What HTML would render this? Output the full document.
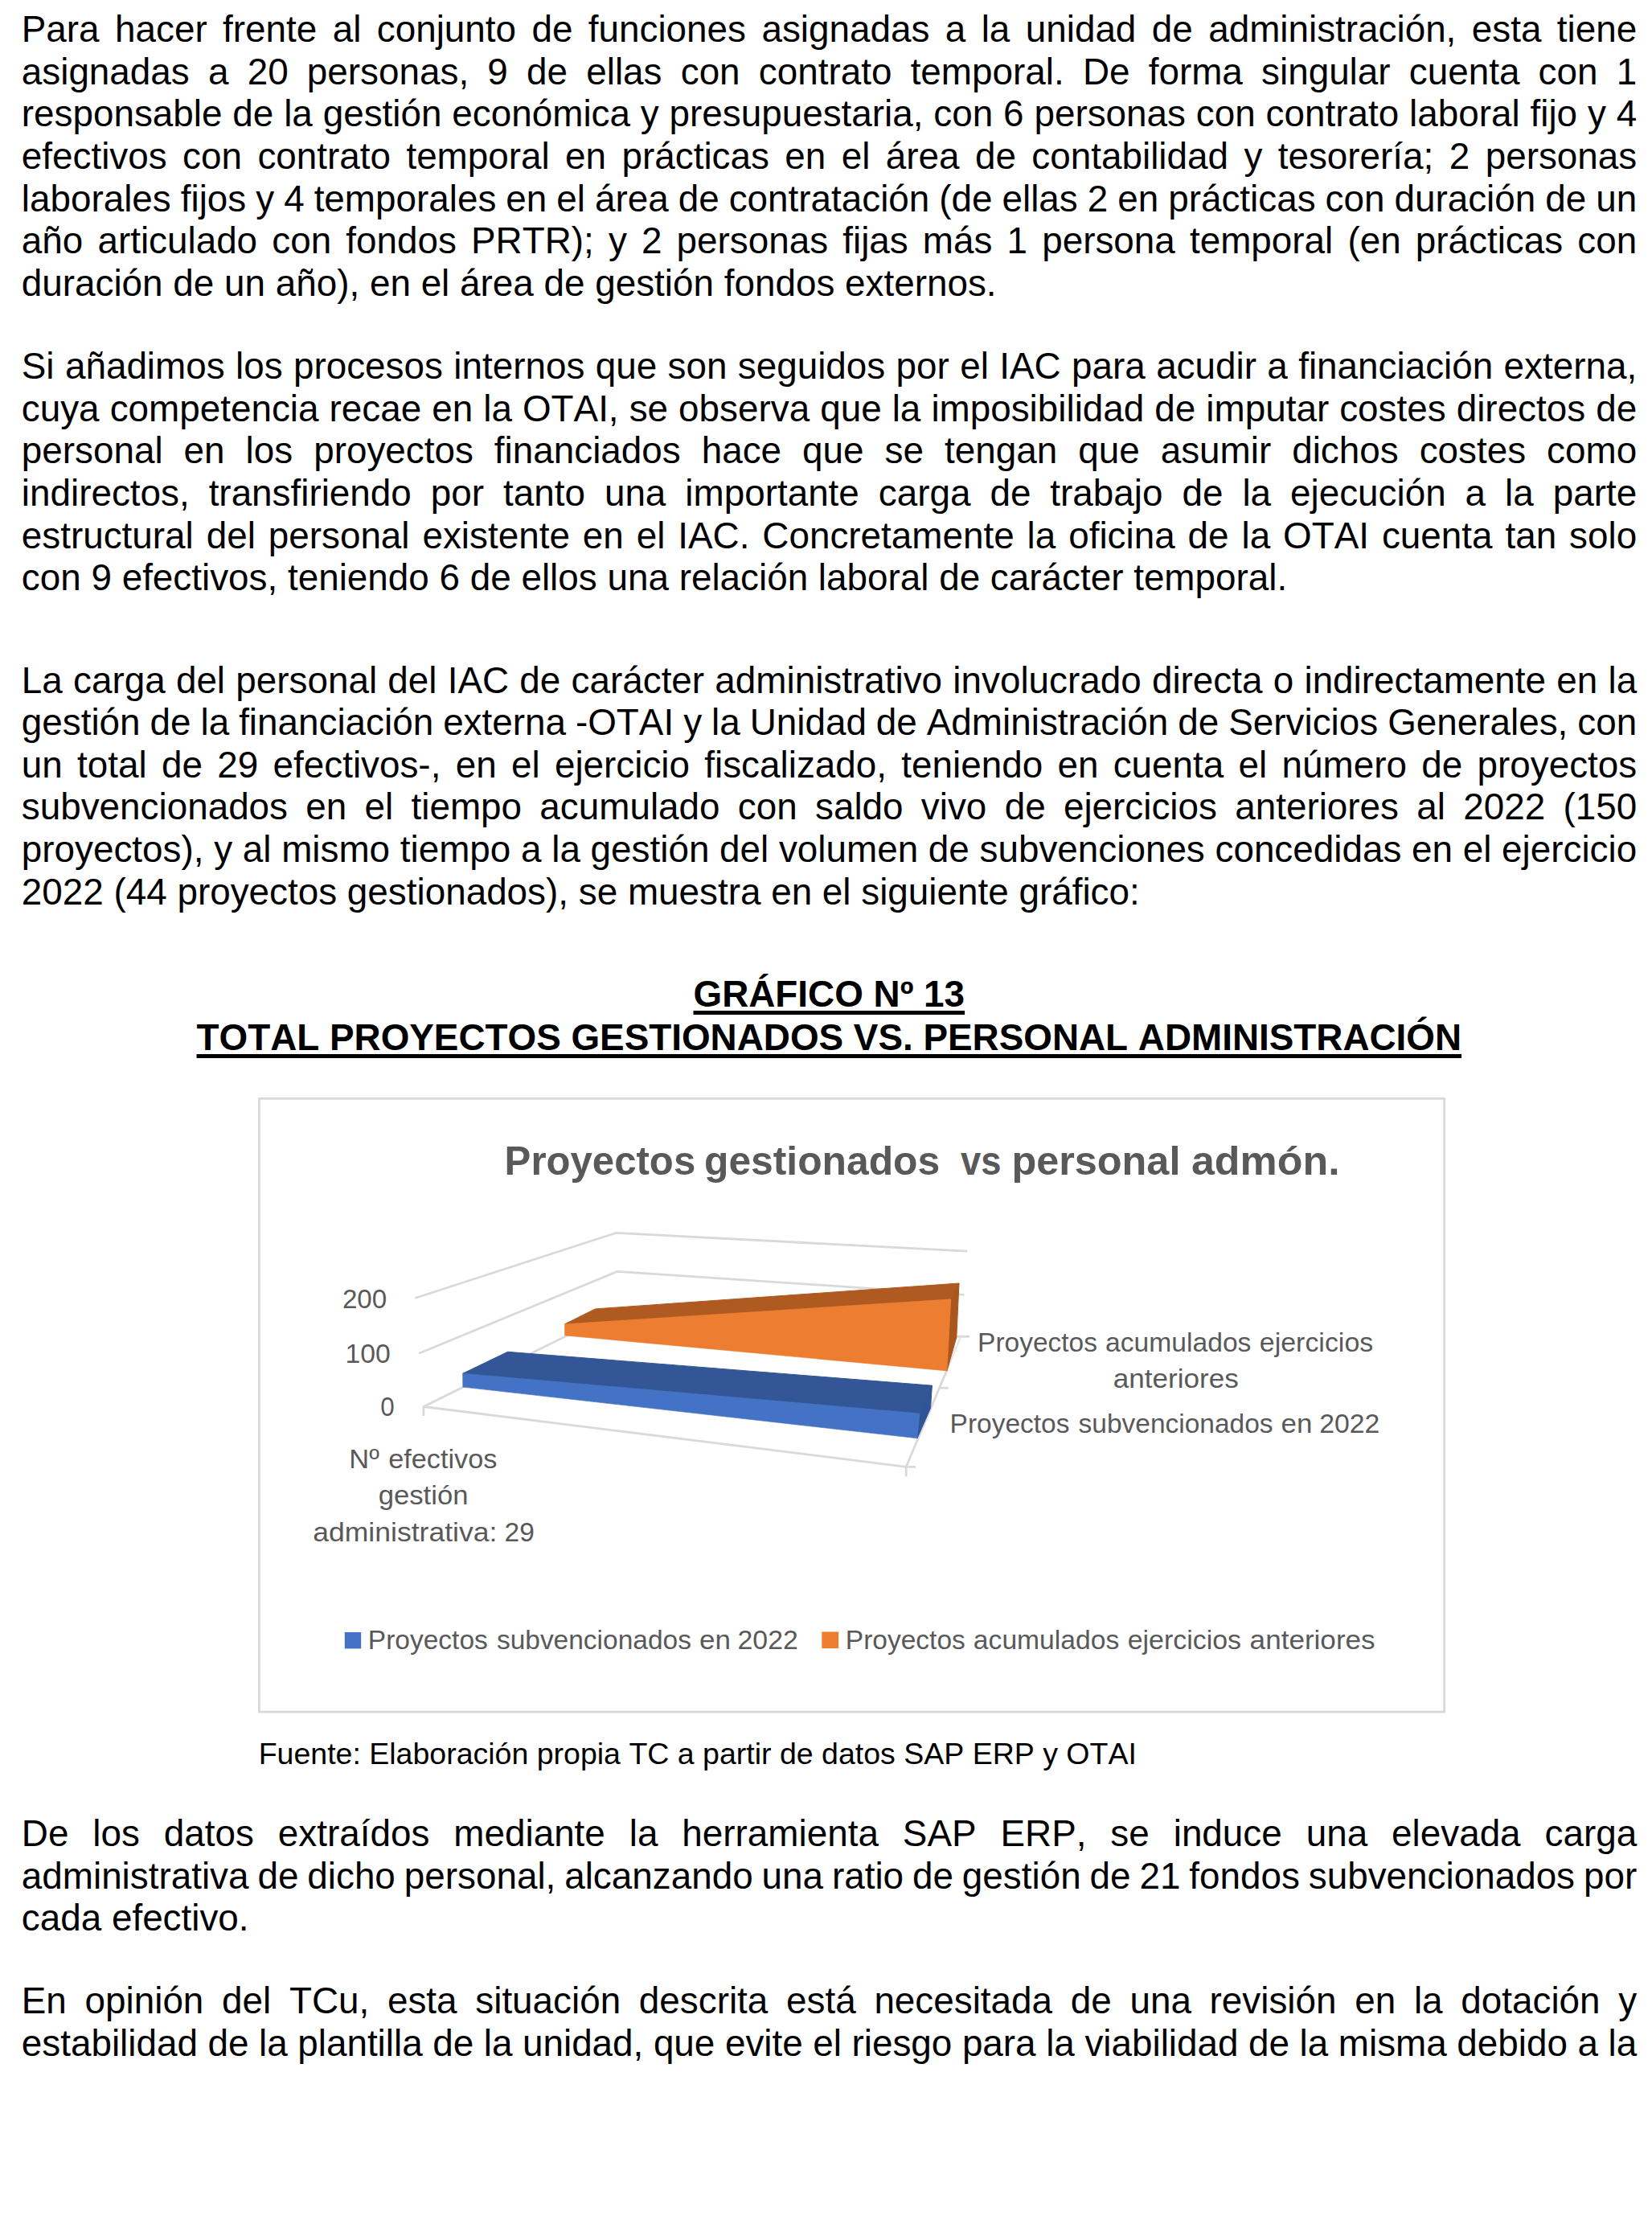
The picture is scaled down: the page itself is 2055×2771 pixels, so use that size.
<!DOCTYPE html>
<html lang="es"><head><meta charset="utf-8"><title>Informe</title>
<style>
html,body{margin:0;padding:0;background:#fff;}
body{width:2055px;height:2771px;position:relative;overflow:hidden;font-family:"Liberation Sans",Arial,sans-serif;color:#000;font-kerning:none;}
.l{position:absolute;left:26.8px;width:2009.4px;font-size:45.83px;line-height:52.6px;height:52.6px;white-space:nowrap;text-align:justify;text-align-last:justify;}
.l.e{text-align:left;text-align-last:left;}
.h{position:absolute;left:7.8px;width:2047px;text-align:center;font-weight:bold;font-size:45.83px;line-height:52.6px;white-space:nowrap;}
.h span{text-decoration:underline;text-decoration-thickness:4.5px;text-underline-offset:5px;}
.src{position:absolute;font-size:37.5px;line-height:40px;white-space:nowrap;}
</style></head><body>
<div class="l" style="top:11.12px">Para hacer frente al conjunto de funciones asignadas a la unidad de administración, esta tiene</div>
<div class="l" style="top:63.72px">asignadas a 20 personas, 9 de ellas con contrato temporal. De forma singular cuenta con 1</div>
<div class="l" style="top:116.32px;word-spacing:-0.22px">responsable de la gestión económica y presupuestaria, con 6 personas con contrato laboral fijo y 4</div>
<div class="l" style="top:168.92px">efectivos con contrato temporal en prácticas en el área de contabilidad y tesorería; 2 personas</div>
<div class="l" style="top:221.52px;word-spacing:-1.09px">laborales fijos y 4 temporales en el área de contratación (de ellas 2 en prácticas con duración de un</div>
<div class="l" style="top:274.12px">año articulado con fondos PRTR); y 2 personas fijas más 1 persona temporal (en prácticas con</div>
<div class="l e" style="top:326.72px">duración de un año), en el área de gestión fondos externos.</div>
<div class="l" style="top:430.22px">Si añadimos los procesos internos que son seguidos por el IAC para acudir a financiación externa,</div>
<div class="l" style="top:482.82px">cuya competencia recae en la OTAI, se observa que la imposibilidad de imputar costes directos de</div>
<div class="l" style="top:535.42px">personal en los proyectos financiados hace que se tengan que asumir dichos costes como</div>
<div class="l" style="top:588.02px">indirectos, transfiriendo por tanto una importante carga de trabajo de la ejecución a la parte</div>
<div class="l" style="top:640.62px">estructural del personal existente en el IAC. Concretamente la oficina de la OTAI cuenta tan solo</div>
<div class="l e" style="top:693.22px">con 9 efectivos, teniendo 6 de ellos una relación laboral de carácter temporal.</div>
<div class="l" style="top:820.62px">La carga del personal del IAC de carácter administrativo involucrado directa o indirectamente en la</div>
<div class="l" style="top:873.22px;word-spacing:-1.11px">gestión de la financiación externa -OTAI y la Unidad de Administración de Servicios Generales, con</div>
<div class="l" style="top:925.82px">un total de 29 efectivos-, en el ejercicio fiscalizado, teniendo en cuenta el número de proyectos</div>
<div class="l" style="top:978.42px">subvencionados en el tiempo acumulado con saldo vivo de ejercicios anteriores al 2022 (150</div>
<div class="l" style="top:1031.02px;word-spacing:-0.38px">proyectos), y al mismo tiempo a la gestión del volumen de subvenciones concedidas en el ejercicio</div>
<div class="l e" style="top:1083.62px">2022 (44 proyectos gestionados), se muestra en el siguiente gráfico:</div>
<div class="l" style="top:2255.22px">De los datos extraídos mediante la herramienta SAP ERP, se induce una elevada carga</div>
<div class="l" style="top:2307.82px;word-spacing:-2.17px">administrativa de dicho personal, alcanzando una ratio de gestión de 21 fondos subvencionados por</div>
<div class="l e" style="top:2360.42px">cada efectivo.</div>
<div class="l" style="top:2463.02px">En opinión del TCu, esta situación descrita está necesitada de una revisión en la dotación y</div>
<div class="l" style="top:2515.62px;word-spacing:-0.52px">estabilidad de la plantilla de la unidad, que evite el riesgo para la viabilidad de la misma debido a la</div>
<div class="h" style="top:1211.12px"><span>GRÁFICO Nº 13</span></div>
<div class="h" style="top:1264.52px"><span>TOTAL PROYECTOS GESTIONADOS VS. PERSONAL ADMINISTRACIÓN</span></div>
<svg style="position:absolute;left:0;top:0" width="2055" height="2771" viewBox="0 0 2055 2771" font-family="'Liberation Sans',Arial,sans-serif">
<rect x="322.4" y="1366.3" width="1474.3" height="762.8" fill="#fff" stroke="#d9d9d9" stroke-width="2.8"/>
<polyline points="516.3,1614.5 766.5,1533.3 1203.2,1556.2" fill="none" stroke="#d9d9d9" stroke-width="2.8" stroke-linejoin="round" stroke-linecap="butt"/>
<polyline points="521.1,1683.2 768.0,1581.3 1199.5,1610.3" fill="none" stroke="#d9d9d9" stroke-width="2.8" stroke-linejoin="round" stroke-linecap="butt"/>
<polyline points="769.5,1629.3 526.9,1749.5 1127.2,1824.3 1177.6,1704.6" fill="none" stroke="#d9d9d9" stroke-width="2.8" stroke-linejoin="round" stroke-linecap="butt"/>
<polyline points="1177.6,1704.6 1194.8,1663.2" fill="none" stroke="#e3e6ea" stroke-width="2.2"/>
<polyline points="526.9,1749.5 526.9,1761.1" fill="none" stroke="#d9d9d9" stroke-width="2.8" stroke-linejoin="round" stroke-linecap="butt"/>
<polyline points="1127.2,1824.3 1127.2,1836.4" fill="none" stroke="#d9d9d9" stroke-width="2.8" stroke-linejoin="round" stroke-linecap="butt"/>
<polyline points="1127.2,1824.3 1139.1,1824.3" fill="none" stroke="#d9d9d9" stroke-width="2.8" stroke-linejoin="round" stroke-linecap="butt"/>
<polyline points="1168.4,1726.2 1179.8,1726.2" fill="none" stroke="#d9d9d9" stroke-width="2.8" stroke-linejoin="round" stroke-linecap="butt"/>
<polyline points="1189.1,1662.3 1206.0,1662.3" fill="none" stroke="#d9d9d9" stroke-width="2.8" stroke-linejoin="round" stroke-linecap="butt"/>
<polygon points="702.6,1646.8 740.4,1627.9 1193.0,1596.0 1182.8,1615.8" fill="#ae5a21" stroke="#ae5a21" stroke-width="1" stroke-linejoin="round"/>
<polygon points="1182.8,1615.8 1193.0,1596.0 1189.8,1663.3 1178.0,1704.9" fill="#a9571f" stroke="#a9571f" stroke-width="1" stroke-linejoin="round"/>
<polygon points="702.6,1646.8 702.6,1660.9 1178.0,1704.9 1182.8,1615.8" fill="#ed7d31" stroke="#ed7d31" stroke-width="0.6" stroke-linejoin="round"/>
<polygon points="575.6,1708.3 631.6,1681.3 1159.4,1723.2 1143.9,1757.9" fill="#335796" stroke="#335796" stroke-width="1" stroke-linejoin="round"/>
<polygon points="1143.9,1757.9 1159.4,1723.2 1157.5,1751.3 1141.0,1788.8" fill="#2f5597" stroke="#2f5597" stroke-width="1" stroke-linejoin="round"/>
<polygon points="575.6,1708.3 575.8,1725.1 1141.0,1788.8 1143.9,1757.9" fill="#4472c4" stroke="#4472c4" stroke-width="0.6" stroke-linejoin="round"/>
<text font-size="49.5" font-weight="bold" fill="#595959"><tspan x="627.62" y="1460.9" textLength="237.60" lengthAdjust="spacingAndGlyphs">Proyectos</tspan> <tspan x="875.99" y="1460.9" textLength="293.15" lengthAdjust="spacingAndGlyphs">gestionados</tspan> <tspan x="1195.00" y="1460.9" textLength="50.40" lengthAdjust="spacingAndGlyphs">vs</tspan> <tspan x="1258.45" y="1460.9" textLength="209.95" lengthAdjust="spacingAndGlyphs">personal</tspan> <tspan x="1481.95" y="1460.9" textLength="184.64" lengthAdjust="spacingAndGlyphs">admón.</tspan></text>
<text font-size="33" font-weight="normal" fill="#595959"><tspan x="425.90" y="1626.9" textLength="55.26" lengthAdjust="spacingAndGlyphs">200</tspan></text>
<text font-size="33" font-weight="normal" fill="#595959"><tspan x="429.46" y="1695.3" textLength="56.25" lengthAdjust="spacingAndGlyphs">100</tspan></text>
<text font-size="33" font-weight="normal" fill="#595959"><tspan x="473.15" y="1761.2" textLength="17.44" lengthAdjust="spacingAndGlyphs">0</tspan></text>
<text font-size="33" font-weight="normal" fill="#595959"><tspan x="434.31" y="1825.9" textLength="37.44" lengthAdjust="spacingAndGlyphs">Nº</tspan> <tspan x="483.26" y="1825.9" textLength="135.16" lengthAdjust="spacingAndGlyphs">efectivos</tspan></text>
<text font-size="33" font-weight="normal" fill="#595959"><tspan x="470.65" y="1871.4" textLength="111.87" lengthAdjust="spacingAndGlyphs">gestión</tspan></text>
<text font-size="33" font-weight="normal" fill="#595959"><tspan x="389.22" y="1916.6" textLength="229.11" lengthAdjust="spacingAndGlyphs">administrativa:</tspan> <tspan x="627.58" y="1916.6" textLength="37.29" lengthAdjust="spacingAndGlyphs">29</tspan></text>
<text font-size="33" font-weight="normal" fill="#595959"><tspan x="1216.07" y="1680.8" textLength="148.94" lengthAdjust="spacingAndGlyphs">Proyectos</tspan> <tspan x="1375.08" y="1680.8" textLength="181.33" lengthAdjust="spacingAndGlyphs">acumulados</tspan> <tspan x="1566.87" y="1680.8" textLength="141.34" lengthAdjust="spacingAndGlyphs">ejercicios</tspan></text>
<text font-size="33" font-weight="normal" fill="#595959"><tspan x="1384.84" y="1726.2" textLength="155.99" lengthAdjust="spacingAndGlyphs">anteriores</tspan></text>
<text font-size="33" font-weight="normal" fill="#595959"><tspan x="1181.57" y="1781.8" textLength="148.94" lengthAdjust="spacingAndGlyphs">Proyectos</tspan> <tspan x="1341.60" y="1781.8" textLength="242.01" lengthAdjust="spacingAndGlyphs">subvencionados</tspan> <tspan x="1593.64" y="1781.8" textLength="38.89" lengthAdjust="spacingAndGlyphs">en</tspan> <tspan x="1641.28" y="1781.8" textLength="75.11" lengthAdjust="spacingAndGlyphs">2022</tspan></text>
<rect x="428.8" y="2030" width="20.4" height="20.4" fill="#4472c4"/>
<rect x="1022.3" y="2029.5" width="20.8" height="20.6" fill="#ed7d31"/>
<text font-size="33" font-weight="normal" fill="#595959"><tspan x="457.87" y="2050.8" textLength="148.94" lengthAdjust="spacingAndGlyphs">Proyectos</tspan> <tspan x="617.90" y="2050.8" textLength="242.01" lengthAdjust="spacingAndGlyphs">subvencionados</tspan> <tspan x="869.94" y="2050.8" textLength="38.89" lengthAdjust="spacingAndGlyphs">en</tspan> <tspan x="917.58" y="2050.8" textLength="75.11" lengthAdjust="spacingAndGlyphs">2022</tspan></text>
<text font-size="33" font-weight="normal" fill="#595959"><tspan x="1051.87" y="2050.8" textLength="148.94" lengthAdjust="spacingAndGlyphs">Proyectos</tspan> <tspan x="1210.88" y="2050.8" textLength="181.33" lengthAdjust="spacingAndGlyphs">acumulados</tspan> <tspan x="1402.67" y="2050.8" textLength="141.34" lengthAdjust="spacingAndGlyphs">ejercicios</tspan> <tspan x="1554.64" y="2050.8" textLength="155.99" lengthAdjust="spacingAndGlyphs">anteriores</tspan></text>
</svg>
<div class="src" style="left:321.7px;top:2160.9px">Fuente: Elaboración propia TC a partir de datos SAP ERP y OTAI</div>
</body></html>
